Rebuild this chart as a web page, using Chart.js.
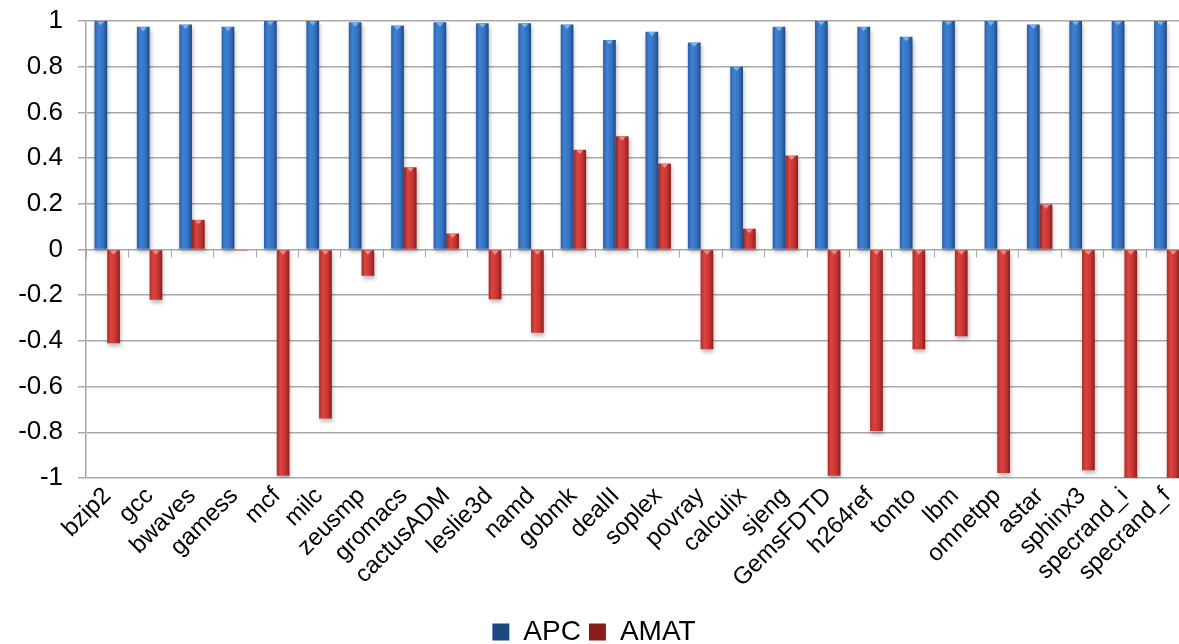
<!DOCTYPE html>
<html>
<head>
<meta charset="utf-8">
<script src="https://cdn.jsdelivr.net/npm/chart.js@4.4.1/dist/chart.umd.min.js"></script>
<style>
  html, body { margin: 0; padding: 0; background: #ffffff; overflow: hidden; }
  #wrap { width: 1200px; height: 644px; }
</style>
</head>
<body>
<div id="wrap"><canvas id="c" width="1200" height="644"></canvas></div>
<script>
const categories = ["bzip2","gcc","bwaves","gamess","mcf","milc","zeusmp","gromacs","cactusADM","leslie3d","namd","gobmk","dealII","soplex","povray","calculix","sjeng","GemsFDTD","h264ref","tonto","lbm","omnetpp","astar","sphinx3","specrand_i","specrand_f"];
const apcValues = [1.0, 0.975, 0.985, 0.975, 1.0, 1.0, 0.995, 0.98, 0.995, 0.99, 0.99, 0.985, 0.917, 0.953, 0.906, 0.80, 0.975, 1.0, 0.975, 0.931, 1.0, 1.0, 0.985, 1.0, 1.0, 1.0];
const amatValues = [-0.41, -0.22, 0.13, -0.005, -0.99, -0.74, -0.115, 0.36, 0.07, -0.218, -0.364, 0.437, 0.496, 0.376, -0.436, 0.091, 0.411, -0.99, -0.794, -0.436, -0.38, -0.978, 0.197, -0.966, -0.999, -1.0];
const seriesNames = ["APC", "AMAT"];
const yMin = -1, yMax = 1, yStep = 0.2;

const palettes = [
  { solid: "#3572c2", stops: ["#2a5fa8", "#3f82d2", "#3470bf", "#1d4783"], tip: "#79b6f0" },
  { solid: "#c93331", stops: ["#b02a28", "#da4541", "#c43431", "#8a1d1c"], tip: "#f28a86" }
];

function barFill(c) {
  const p = palettes[c.datasetIndex];
  if (c.type !== "data") return p.solid;
  const el = c.chart.getDatasetMeta(c.datasetIndex).data[c.dataIndex];
  if (!el || el.width == null || isNaN(el.x) || isNaN(el.width)) return p.solid;
  const g = c.chart.ctx.createLinearGradient(el.x - el.width / 2, 0, el.x + el.width / 2, 0);
  g.addColorStop(0, p.stops[0]);
  g.addColorStop(0.3, p.stops[1]);
  g.addColorStop(0.7, p.stops[2]);
  g.addColorStop(1, p.stops[3]);
  return g;
}

const barDecor = {
  id: "barDecor",
  beforeDatasetsDraw(chart) {
    const ctx = chart.ctx;
    ctx.save();
    ctx.shadowColor = "rgba(0,0,0,0.28)";
    ctx.shadowBlur = 4;
    ctx.shadowOffsetX = 1;
    ctx.shadowOffsetY = 3;
  },
  afterDatasetsDraw(chart) {
    const ctx = chart.ctx;
    ctx.restore();
    const xs = chart.scales.x, ys = chart.scales.y;
    const y0 = ys.getPixelForValue(0);
    ctx.save();
    ctx.strokeStyle = "#a8a8a8";
    ctx.lineWidth = 1;
    for (let i = 0; i <= categories.length; i++) {
      const x = Math.round(xs.getPixelForValue(i - 0.5)) + 0.5;
      ctx.beginPath();
      ctx.moveTo(x, y0);
      ctx.lineTo(x, y0 + 8);
      ctx.stroke();
    }
    chart.data.datasets.forEach((ds, di) => {
      const meta = chart.getDatasetMeta(di);
      ctx.fillStyle = palettes[di].tip;
      meta.data.forEach((el, i) => {
        const v = ds.data[i];
        if (Math.abs(v) < 0.02) return;
        const top = Math.min(el.y, el.base);
        const w = el.width * 0.55;
        ctx.beginPath();
        ctx.moveTo(el.x - w / 2, top + 0.5);
        ctx.lineTo(el.x + w / 2, top + 0.5);
        ctx.lineTo(el.x, top + 4.5);
        ctx.closePath();
        ctx.fill();
      });
    });
    ctx.restore();
  }
};

const FONT = "'Liberation Sans', Arial, sans-serif";

const chart = new Chart(document.getElementById("c"), {
  type: "bar",
  data: {
    labels: categories,
    datasets: [
      { label: seriesNames[0], data: apcValues, backgroundColor: barFill, borderWidth: 0 },
      { label: seriesNames[1], data: amatValues, backgroundColor: barFill, borderWidth: 0 }
    ]
  },
  options: {
    responsive: false,
    animation: false,
    devicePixelRatio: 1,
    layout: { padding: { top: 21, right: 12, left: 0, bottom: -12 } },
    datasets: { bar: { categoryPercentage: 0.6, barPercentage: 1.0 } },
    scales: {
      x: {
        grid: { display: false },
        border: { display: false },
        afterFit(s) { s.height = 132; s.paddingLeft = 0; s.paddingRight = 0; },
        ticks: {
          autoSkip: false,
          maxRotation: 45,
          minRotation: 45,
          padding: -4,
          color: "#000",
          font: { family: FONT, size: 24 }
        }
      },
      y: {
        min: yMin,
        max: yMax,
        afterFit(s) { s.width = 86; s.paddingTop = 0; s.paddingBottom = 0; },
        grid: { color: "#a8a8a8", lineWidth: 1.5, tickLength: 8, tickColor: "#a8a8a8" },
        border: { display: true, color: "#a8a8a8", width: 1.5 },
        ticks: {
          stepSize: yStep,
          padding: 15,
          color: "#000",
          font: { family: FONT, size: 26 },
          callback: (v) => String(Math.round(v * 10) / 10)
        }
      }
    },
    plugins: {
      tooltip: { enabled: false },
      legend: {
        position: "bottom",
        labels: {
          color: "#000",
          boxWidth: 17,
          boxHeight: 17,
          padding: 8,
          font: { family: FONT, size: 28 }
        }
      }
    }
  },
  plugins: [barDecor]
});
chart.update();
</script>
</body>
</html>
